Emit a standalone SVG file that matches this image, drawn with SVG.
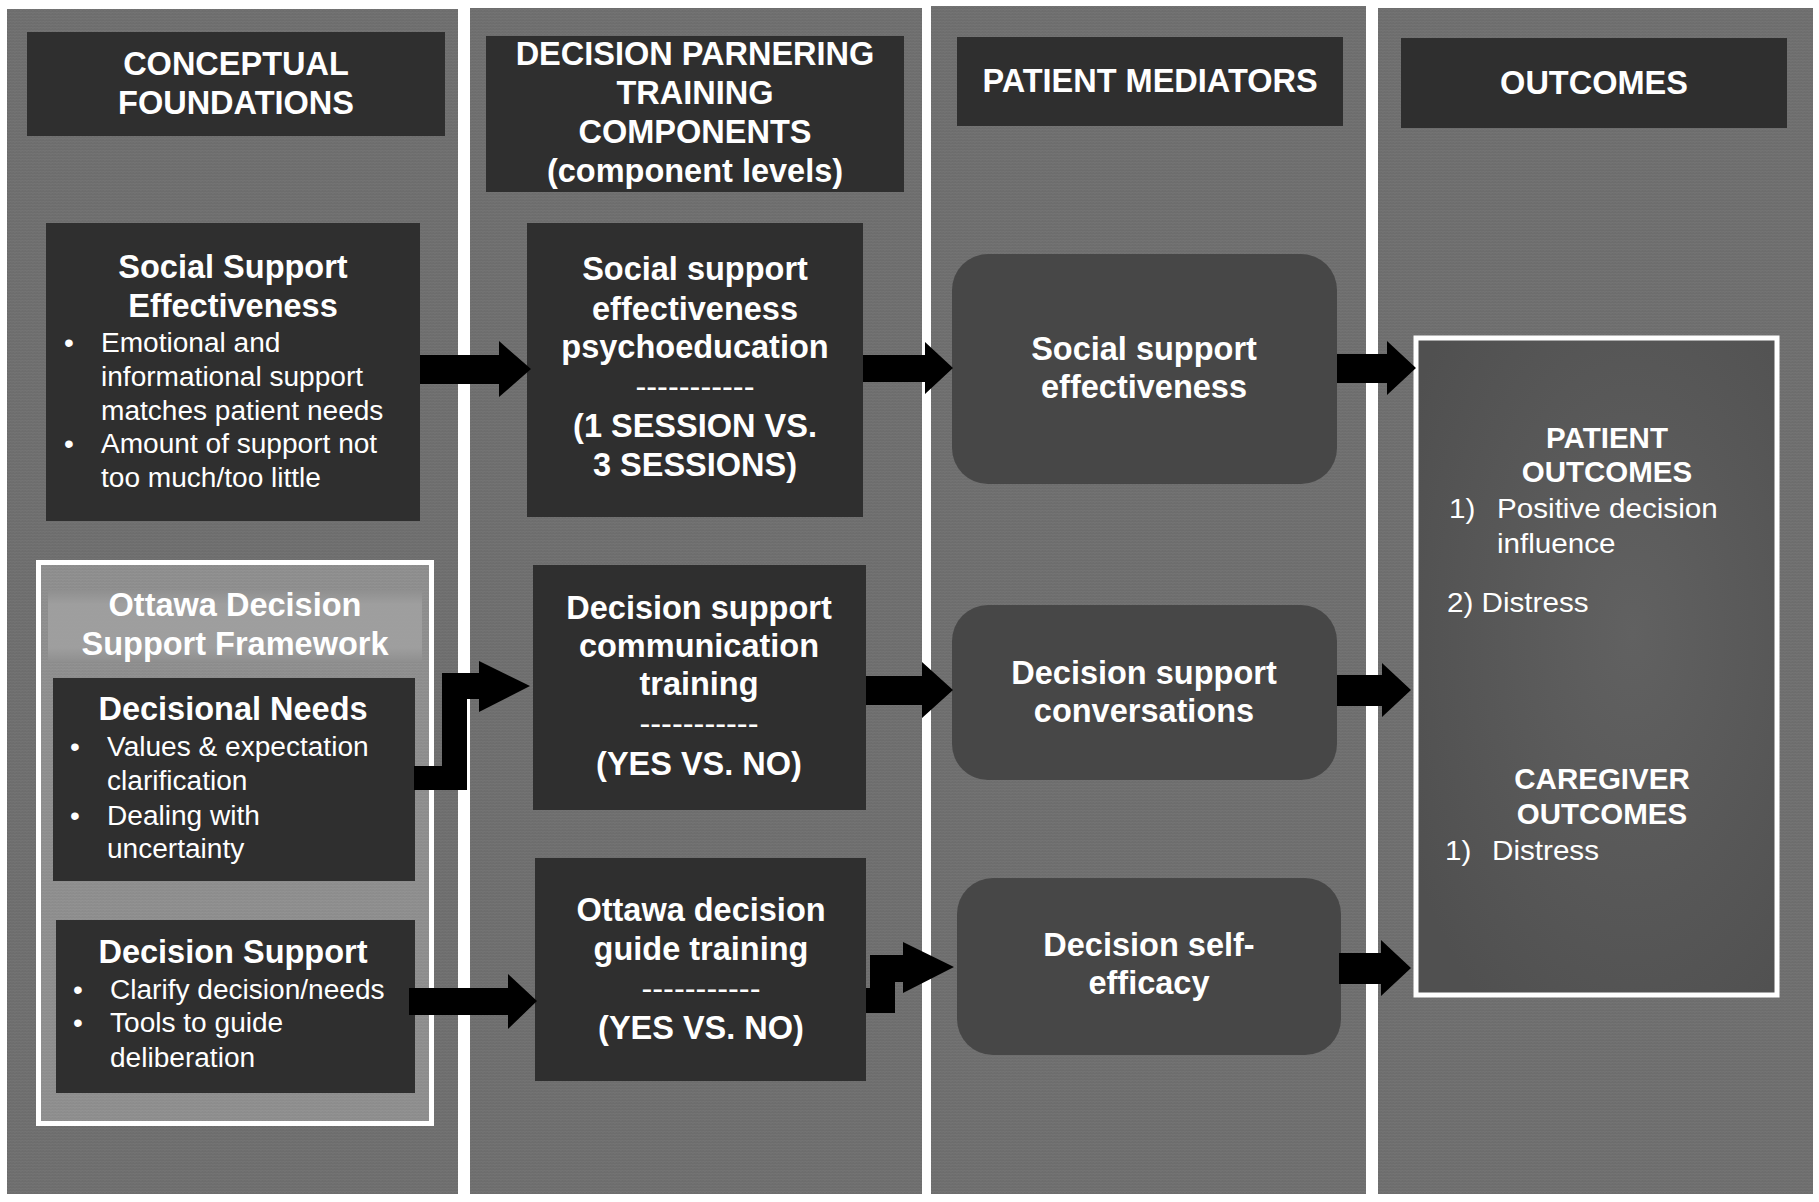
<svg xmlns="http://www.w3.org/2000/svg" width="1819" height="1202" viewBox="0 0 1819 1202">
<defs>
<pattern id="tex" width="6" height="6" patternUnits="userSpaceOnUse">
<rect width="6" height="6" fill="#6d6d6d"/>
<path d="M0,1.5 L1.5,0 L3,1.5 L4.5,0 L6,1.5 M0,4.5 L1.5,3 L3,4.5 L4.5,3 L6,4.5" fill="none" stroke="#777777" stroke-width="0.8"/>
</pattern>
<pattern id="tex2" width="6" height="6" patternUnits="userSpaceOnUse">
<rect width="6" height="6" fill="#8c8c8c"/>
<path d="M0,1.5 L1.5,0 L3,1.5 L4.5,0 L6,1.5 M0,4.5 L1.5,3 L3,4.5 L4.5,3 L6,4.5" fill="none" stroke="#969696" stroke-width="0.8"/>
</pattern>
<radialGradient id="outg" cx="0.6" cy="0.45" r="0.7">
<stop offset="0" stop-color="#616161"/>
<stop offset="1" stop-color="#505050"/>
</radialGradient>
<linearGradient id="band" x1="0" y1="0" x2="0" y2="1">
<stop offset="0" stop-color="#8f8f8f"/>
<stop offset="0.2" stop-color="#a0a0a0"/>
<stop offset="0.8" stop-color="#a0a0a0"/>
<stop offset="1" stop-color="#8f8f8f"/>
</linearGradient>
</defs>
<style>
.col{fill:url(#tex)}
.dark{fill:#2f2f2f}
.rnd{fill:#474747}
.t{font-family:"Liberation Sans",Arial,Helvetica,sans-serif;fill:#ffffff}
.b{font-weight:bold;font-size:32.5px}
.r{font-size:27px}
.d{font-size:32.5px}
.ro{font-size:28.5px}
.bo{font-weight:bold;font-size:29.5px}
.c{text-anchor:middle}
.arr{fill:#000000}
</style>
<rect width="1819" height="1202" fill="#ffffff"/>

<g id="columns">
<rect class="col" x="7" y="9" width="451" height="1185"/>
<rect class="col" x="470" y="8" width="452" height="1186"/>
<rect class="col" x="931" y="6" width="435" height="1188"/>
<rect class="col" x="1378" y="8" width="435" height="1186"/>
</g>

<g id="header-conceptual">
<rect class="dark" x="27" y="32" width="418" height="104"/>
<text class="t b c"><tspan x="236" y="75">CONCEPTUAL</tspan><tspan x="236" y="114">FOUNDATIONS</tspan></text>
</g>
<g id="header-training">
<rect class="dark" x="486" y="36" width="418" height="156"/>
<text class="t b c"><tspan x="695" y="65">DECISION PARNERING</tspan><tspan x="695" y="104">TRAINING</tspan><tspan x="695" y="143">COMPONENTS</tspan><tspan x="695" y="182">(component levels)</tspan></text>
</g>
<g id="header-mediators">
<rect class="dark" x="957" y="37" width="386" height="89"/>
<text class="t b c"><tspan x="1150" y="92">PATIENT MEDIATORS</tspan></text>
</g>
<g id="header-outcomes">
<rect class="dark" x="1401" y="38" width="386" height="90"/>
<text class="t b c"><tspan x="1594" y="94">OUTCOMES</tspan></text>
</g>

<g id="node-sse">
<rect class="dark" x="46" y="223" width="374" height="298"/>
<text class="t b c"><tspan x="233" y="278">Social Support</tspan><tspan x="233" y="317">Effectiveness</tspan></text>
<text class="t r" transform="matrix(1.04 0 0 1 64 0)"><tspan x="0" y="352">•</tspan><tspan x="0" y="453">•</tspan></text>
<text class="t r" transform="matrix(1.04 0 0 1 101 0)"><tspan x="0" y="352">Emotional and</tspan><tspan x="0" y="386">informational support</tspan><tspan x="0" y="420">matches patient needs</tspan><tspan x="0" y="453">Amount of support not</tspan><tspan x="0" y="487">too much/too little</tspan></text>
</g>

<g id="node-ottawa-framework">
<rect x="38.5" y="562.5" width="393" height="561" fill="url(#tex2)" stroke="#ffffff" stroke-width="5"/>
<rect x="48" y="590" width="374" height="72" fill="url(#band)" opacity="0.9"/>
<text class="t b c"><tspan x="235" y="616">Ottawa Decision</tspan><tspan x="235" y="655">Support Framework</tspan></text>
</g>
<g id="node-decisional-needs">
<rect class="dark" x="53" y="678" width="362" height="203"/>
<text class="t b c"><tspan x="233" y="720">Decisional Needs</tspan></text>
<text class="t r" transform="matrix(1.04 0 0 1 70 0)"><tspan x="0" y="756">•</tspan><tspan x="0" y="825">•</tspan></text>
<text class="t r" transform="matrix(1.04 0 0 1 107 0)"><tspan x="0" y="756">Values &amp; expectation</tspan><tspan x="0" y="790">clarification</tspan><tspan x="0" y="825">Dealing with</tspan><tspan x="0" y="858">uncertainty</tspan></text>
</g>
<g id="node-decision-support">
<rect class="dark" x="56" y="920" width="359" height="173"/>
<text class="t b c"><tspan x="233" y="963">Decision Support</tspan></text>
<text class="t r" transform="matrix(1.04 0 0 1 73 0)"><tspan x="0" y="999">•</tspan><tspan x="0" y="1032">•</tspan></text>
<text class="t r" transform="matrix(1.04 0 0 1 110 0)"><tspan x="0" y="999">Clarify decision/needs</tspan><tspan x="0" y="1032">Tools to guide</tspan><tspan x="0" y="1067">deliberation</tspan></text>
</g>

<g id="node-psychoeducation">
<rect class="dark" x="527" y="223" width="336" height="294"/>
<text class="t b c"><tspan x="695" y="280">Social support</tspan><tspan x="695" y="320">effectiveness</tspan><tspan x="695" y="358">psychoeducation</tspan><tspan x="695" y="437">(1 SESSION VS.</tspan><tspan x="695" y="476">3 SESSIONS)</tspan></text>
<text class="t d c"><tspan x="695" y="398">-----------</tspan></text>
</g>
<g id="node-communication">
<rect class="dark" x="533" y="565" width="333" height="245"/>
<text class="t b c"><tspan x="699" y="619">Decision support</tspan><tspan x="699" y="657">communication</tspan><tspan x="699" y="695">training</tspan><tspan x="699" y="775">(YES VS. NO)</tspan></text>
<text class="t d c"><tspan x="699" y="735">-----------</tspan></text>
</g>
<g id="node-guide">
<rect class="dark" x="535" y="858" width="331" height="223"/>
<text class="t b c"><tspan x="701" y="921">Ottawa decision</tspan><tspan x="701" y="960">guide training</tspan><tspan x="701" y="1039">(YES VS. NO)</tspan></text>
<text class="t d c"><tspan x="701" y="1000">-----------</tspan></text>
</g>

<g id="node-med-sse">
<rect class="rnd" x="952" y="254" width="385" height="230" rx="36"/>
<text class="t b c"><tspan x="1144" y="360">Social support</tspan><tspan x="1144" y="398">effectiveness</tspan></text>
</g>
<g id="node-med-conversations">
<rect class="rnd" x="952" y="605" width="385" height="175" rx="36"/>
<text class="t b c"><tspan x="1144" y="684">Decision support</tspan><tspan x="1144" y="722">conversations</tspan></text>
</g>
<g id="node-med-efficacy">
<rect class="rnd" x="957" y="878" width="384" height="177" rx="36"/>
<text class="t b c"><tspan x="1149" y="956">Decision self-</tspan><tspan x="1149" y="994">efficacy</tspan></text>
</g>

<g id="node-outcomes">
<rect x="1416" y="338" width="361" height="657" fill="url(#outg)" stroke="#ffffff" stroke-width="5"/>
<text class="t bo c"><tspan x="1607" y="448">PATIENT</tspan><tspan x="1607" y="482">OUTCOMES</tspan></text>
<text class="t ro" transform="matrix(1.04 0 0 1 1449 0)"><tspan x="0" y="518">1)</tspan></text>
<text class="t ro" transform="matrix(1.04 0 0 1 1497 0)"><tspan x="0" y="518">Positive decision</tspan><tspan x="0" y="553">influence</tspan></text>
<text class="t ro" transform="matrix(1.04 0 0 1 1447 0)"><tspan x="0" y="612">2) Distress</tspan></text>
<text class="t bo c"><tspan x="1602" y="789">CAREGIVER</tspan><tspan x="1602" y="824">OUTCOMES</tspan></text>
<text class="t ro" transform="matrix(1.04 0 0 1 1445 0)"><tspan x="0" y="860">1)</tspan></text>
<text class="t ro" transform="matrix(1.04 0 0 1 1492 0)"><tspan x="0" y="860">Distress</tspan></text>
</g>

<g id="connectors">
<path class="arr" d="M420,355 H499 V341 L531,369 L499,397 V384 H420 Z"/>
<path class="arr" d="M863,355 H925 V342 L953,368 L925,394 V382 H863 Z"/>
<path class="arr" d="M1337,354 H1387 V341 L1416,368 L1387,395 V383 H1337 Z"/>
<path class="arr" d="M414,766 H442 V673 H479 V661 L530,686 L479,712 V699 H467 V790 H414 Z"/>
<path class="arr" d="M409,988 H508 V974 L537,1001 L508,1029 V1015 H409 Z"/>
<path class="arr" d="M866,676 H922 V662 L953,690 L922,718 V705 H866 Z"/>
<path class="arr" d="M1337,675 H1382 V663 L1411,690 L1382,717 V706 H1337 Z"/>
<path class="arr" d="M866,988 H870 V955 H903 V942 L954,967 L903,993 V982 H895 V1013 H866 Z"/>
<path class="arr" d="M1339,953 H1381 V940 L1411,968 L1381,996 V984 H1339 Z"/>
</g>
</svg>
